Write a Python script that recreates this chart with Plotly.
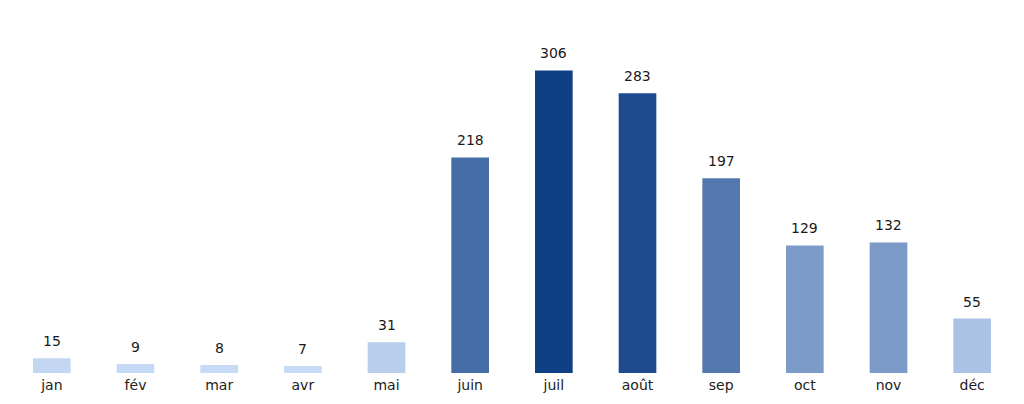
import plotly.graph_objects as go

months = ["jan", "fév", "mar", "avr", "mai", "juin", "juil", "août", "sep", "oct", "nov", "déc"]
values = [15, 9, 8, 7, 31, 218, 306, 283, 197, 129, 132, 55]

fig = go.Figure(go.Bar(
    x=months,
    y=values,
    width=0.45,
    marker=dict(
        color=values,
        cmin=7, cmax=306,
        colorscale=[[0, "#c8dbf6"], [1, "#0f3f85"]],
        line=dict(width=0),
    ),
    hoverinfo="skip",
))

for m, v in zip(months, values):
    fig.add_annotation(
        x=m, y=v, text=str(v), showarrow=False,
        yanchor="bottom", yshift=7,
        font=dict(family="DejaVu Sans", size=14, color="#1a1a1a"),
    )

fig.update_layout(
    width=1024, height=404,
    margin=dict(l=2, r=18, t=12, b=39),
    paper_bgcolor="white",
    plot_bgcolor="white",
    showlegend=False,
    font=dict(family="DejaVu Sans", size=14, color="#222222"),
    xaxis=dict(showgrid=False, showline=False, zeroline=False, ticks="",
               ticklabelstandoff=2,
               tickfont=dict(family="DejaVu Sans", size=14, color="#222222")),
    yaxis=dict(range=[0, 357], visible=False),
)

fig.write_html("out.html")
